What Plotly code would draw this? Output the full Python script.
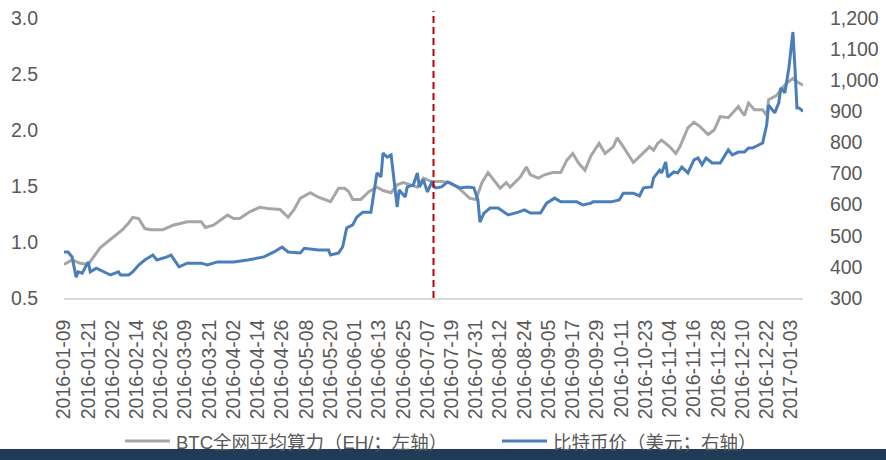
import plotly.graph_objects as go

# BTC network average hash rate (EH/s, left axis)
hash_dates = [
    "2016-01-09", "2016-01-13", "2016-01-17", "2016-01-21", "2016-01-27", "2016-02-03",
    "2016-02-07", "2016-02-10", "2016-02-12", "2016-02-15", "2016-02-18", "2016-02-21",
    "2016-02-27", "2016-03-03", "2016-03-10", "2016-03-17", "2016-03-19", "2016-03-23",
    "2016-03-30", "2016-04-02", "2016-04-05", "2016-04-10", "2016-04-15", "2016-04-19",
    "2016-04-25", "2016-04-29", "2016-05-02", "2016-05-05", "2016-05-10", "2016-05-14",
    "2016-05-17", "2016-05-20", "2016-05-24", "2016-05-27", "2016-05-29", "2016-05-31",
    "2016-06-04", "2016-06-08", "2016-06-12", "2016-06-15", "2016-06-19", "2016-06-22",
    "2016-06-25", "2016-07-02", "2016-07-05", "2016-07-09", "2016-07-14", "2016-07-18",
    "2016-07-22", "2016-07-25", "2016-07-28", "2016-07-31", "2016-08-03", "2016-08-06",
    "2016-08-09", "2016-08-12", "2016-08-15", "2016-08-17", "2016-08-22", "2016-08-25",
    "2016-08-27", "2016-08-31", "2016-09-03", "2016-09-07", "2016-09-11", "2016-09-14",
    "2016-09-17", "2016-09-20", "2016-09-23", "2016-09-26", "2016-09-30", "2016-10-03",
    "2016-10-07", "2016-10-09", "2016-10-12", "2016-10-17", "2016-10-21", "2016-10-25",
    "2016-10-27", "2016-10-29", "2016-10-31", "2016-11-04", "2016-11-07", "2016-11-09",
    "2016-11-13", "2016-11-16", "2016-11-19", "2016-11-23", "2016-11-26", "2016-11-29",
    "2016-12-03", "2016-12-04", "2016-12-08", "2016-12-09", "2016-12-11", "2016-12-13",
    "2016-12-16", "2016-12-20", "2016-12-22", "2016-12-23", "2016-12-27", "2016-12-29",
    "2017-01-01", "2017-01-04", "2017-01-06", "2017-01-09",
]
hash_rate = [
    0.80, 0.84, 0.81, 0.80, 0.95, 1.05,
    1.11, 1.17, 1.22, 1.21, 1.12, 1.11,
    1.11, 1.15, 1.18, 1.18, 1.13, 1.15,
    1.24, 1.21, 1.21, 1.27, 1.31, 1.30,
    1.29, 1.22, 1.29, 1.39, 1.44, 1.40,
    1.38, 1.36, 1.48, 1.48, 1.45, 1.38,
    1.38, 1.45, 1.49, 1.46, 1.44, 1.51,
    1.53, 1.49, 1.57, 1.54, 1.54, 1.53,
    1.49, 1.44, 1.39, 1.38, 1.53, 1.62,
    1.55, 1.48, 1.53, 1.49, 1.58, 1.67,
    1.60, 1.57, 1.60, 1.62, 1.62, 1.73,
    1.79, 1.70, 1.64, 1.77, 1.88, 1.79,
    1.85, 1.93, 1.85, 1.71, 1.78, 1.85,
    1.82, 1.88, 1.91, 1.85, 1.79, 1.85,
    2.02, 2.07, 2.03, 1.96, 2.00, 2.12,
    2.11, 2.13, 2.21, 2.18, 2.13, 2.24,
    2.18, 2.18, 2.13, 2.27, 2.31, 2.36,
    2.42, 2.46, 2.43, 2.40,
]

# Bitcoin price (USD, right axis)
price_dates = [
    "2016-01-09", "2016-01-11", "2016-01-13", "2016-01-15", "2016-01-16", "2016-01-18",
    "2016-01-21", "2016-01-22", "2016-01-25", "2016-01-27", "2016-02-01", "2016-02-05",
    "2016-02-06", "2016-02-10", "2016-02-12", "2016-02-15", "2016-02-18", "2016-02-22",
    "2016-02-24", "2016-02-29", "2016-03-02", "2016-03-06", "2016-03-10", "2016-03-17",
    "2016-03-20", "2016-03-25", "2016-04-02", "2016-04-09", "2016-04-17", "2016-04-22",
    "2016-04-26", "2016-04-29", "2016-05-05", "2016-05-07", "2016-05-14", "2016-05-19",
    "2016-05-20", "2016-05-24", "2016-05-26", "2016-05-28", "2016-05-31", "2016-06-02",
    "2016-06-05", "2016-06-09", "2016-06-12", "2016-06-14", "2016-06-15", "2016-06-17",
    "2016-06-19", "2016-06-22", "2016-06-23", "2016-06-26", "2016-06-27", "2016-06-30",
    "2016-07-02", "2016-07-03", "2016-07-05", "2016-07-07", "2016-07-09", "2016-07-11",
    "2016-07-14", "2016-07-17", "2016-07-20", "2016-07-23", "2016-07-27", "2016-07-30",
    "2016-08-01", "2016-08-02", "2016-08-04", "2016-08-07", "2016-08-11", "2016-08-14",
    "2016-08-16", "2016-08-21", "2016-08-24", "2016-08-27", "2016-09-01", "2016-09-04",
    "2016-09-08", "2016-09-11", "2016-09-19", "2016-09-22", "2016-09-26", "2016-09-27",
    "2016-10-01", "2016-10-06", "2016-10-10", "2016-10-12", "2016-10-17", "2016-10-20",
    "2016-10-22", "2016-10-26", "2016-10-27", "2016-10-30", "2016-10-31", "2016-11-02",
    "2016-11-03", "2016-11-06", "2016-11-08", "2016-11-10", "2016-11-13", "2016-11-16",
    "2016-11-18", "2016-11-20", "2016-11-22", "2016-11-25", "2016-11-29", "2016-12-03",
    "2016-12-05", "2016-12-08", "2016-12-11", "2016-12-13", "2016-12-15", "2016-12-18",
    "2016-12-20", "2016-12-22", "2016-12-23", "2016-12-26", "2016-12-28", "2016-12-29",
    "2016-12-30", "2016-12-31", "2017-01-02", "2017-01-03", "2017-01-04", "2017-01-05",
    "2017-01-06", "2017-01-07", "2017-01-09",
]
btc_price = [
    448, 448, 432, 367, 384, 380,
    416, 384, 396, 390, 374, 384,
    374, 374, 384, 406, 422, 438,
    422, 432, 438, 400, 412, 412,
    406, 416, 416, 422, 432, 448,
    464, 448, 445, 460, 454, 454,
    438, 445, 464, 525, 535, 560,
    576, 576, 702, 689, 766, 753,
    760, 592, 647, 625, 657, 663,
    702, 657, 680, 641, 670, 654,
    657, 673, 663, 654, 657, 654,
    615, 544, 573, 589, 589, 576,
    567, 576, 583, 573, 573, 605,
    621, 609, 609, 599, 605, 609,
    609, 609, 615, 637, 637, 628,
    654, 657, 686, 711, 702, 737,
    689, 705, 702, 721, 702, 744,
    750, 728, 750, 734, 734, 776,
    760, 769, 769, 782, 782, 792,
    798, 856, 920, 895, 927, 975,
    969, 959, 1039, 1097, 1155, 1042,
    911, 911, 900,
]

# Category labels shown every 12 days
tick_labels = [
    "2016-01-09", "2016-01-21", "2016-02-02", "2016-02-14", "2016-02-26", "2016-03-09",
    "2016-03-21", "2016-04-02", "2016-04-14", "2016-04-26", "2016-05-08", "2016-05-20",
    "2016-06-01", "2016-06-13", "2016-06-25", "2016-07-07", "2016-07-19", "2016-07-31",
    "2016-08-12", "2016-08-24", "2016-09-05", "2016-09-17", "2016-09-29", "2016-10-11",
    "2016-10-23", "2016-11-04", "2016-11-16", "2016-11-28", "2016-12-10", "2016-12-22",
    "2017-01-03",
]

halving_date = "2016-07-10"

series_names = ["BTC全网平均算力（EH/；左轴）", "比特币价（美元；右轴）"]
series_colors = ["#a6a6a6", "#4a7ebb"]

label_font = dict(family="Liberation Sans, Arial, sans-serif", size=19.5, color="#595959")
legend_font = dict(family="Liberation Sans, Noto Sans CJK SC, sans-serif", size=18.5, color="#595959")

fig = go.Figure()
fig.add_trace(go.Scatter(
    x=hash_dates, y=hash_rate, mode="lines", name=series_names[0],
    line=dict(color=series_colors[0], width=3), showlegend=False,
))
fig.add_trace(go.Scatter(
    x=price_dates, y=btc_price, mode="lines", yaxis="y2", name=series_names[1],
    line=dict(color=series_colors[1], width=3), showlegend=False,
))

# Halving marker
fig.add_shape(
    type="line", xref="x", yref="paper",
    x0=halving_date, x1=halving_date, y0=0, y1=1.025,
    line=dict(color="#c00000", width=2, dash="7px,4px"),
)

# Footer band
fig.add_shape(
    type="rect", xref="paper", yref="paper",
    x0=-0.09, x1=1.12, y0=-0.58, y1=-0.539,
    fillcolor="#1f3b57", line=dict(width=0), layer="below",
)

# Legend row below the date labels: line swatch + label per series
legend_y = -0.511
swatch_x = [(0.0825, 0.1434), (0.5927, 0.6536)]
text_x = [0.149, 0.659]
for name, color, (sx0, sx1), tx in zip(series_names, series_colors, swatch_x, text_x):
    fig.add_shape(
        type="line", xref="paper", yref="paper",
        x0=sx0, x1=sx1, y0=legend_y, y1=legend_y,
        line=dict(color=color, width=3),
    )
    fig.add_annotation(
        xref="paper", yref="paper", x=tx, y=legend_y - 0.004,
        xanchor="left", yanchor="middle", text=name, showarrow=False,
        font=legend_font,
    )

fig.update_layout(
    width=886, height=460,
    margin=dict(l=64, r=83, t=18, b=162),
    paper_bgcolor="white", plot_bgcolor="white",
    showlegend=False,
    xaxis=dict(
        type="date", range=["2016-01-09", "2017-01-09"],
        tickmode="array", tickvals=tick_labels, ticktext=tick_labels,
        tickangle=-90, tickfont=label_font, automargin=False,
        showgrid=False, zeroline=False,
        showline=True, linecolor="#d9d9d9", linewidth=1.5,
        ticks="outside", ticklen=12, tickcolor="rgba(0,0,0,0)",
    ),
    yaxis=dict(
        range=[0.5, 3.0], dtick=0.5, tick0=0.5, tickformat=".1f",
        tickfont=label_font, showgrid=False, zeroline=False, showline=False,
        automargin=False,
        ticks="outside", ticklen=21, tickcolor="rgba(0,0,0,0)",
    ),
    yaxis2=dict(
        range=[300, 1200], dtick=100, tick0=300, tickformat=",",
        overlaying="y", side="right", automargin=False,
        tickfont=label_font, showgrid=False, zeroline=False, showline=False,
        ticks="outside", ticklen=22, tickcolor="rgba(0,0,0,0)",
    ),
)

fig.write_html("out.html")
